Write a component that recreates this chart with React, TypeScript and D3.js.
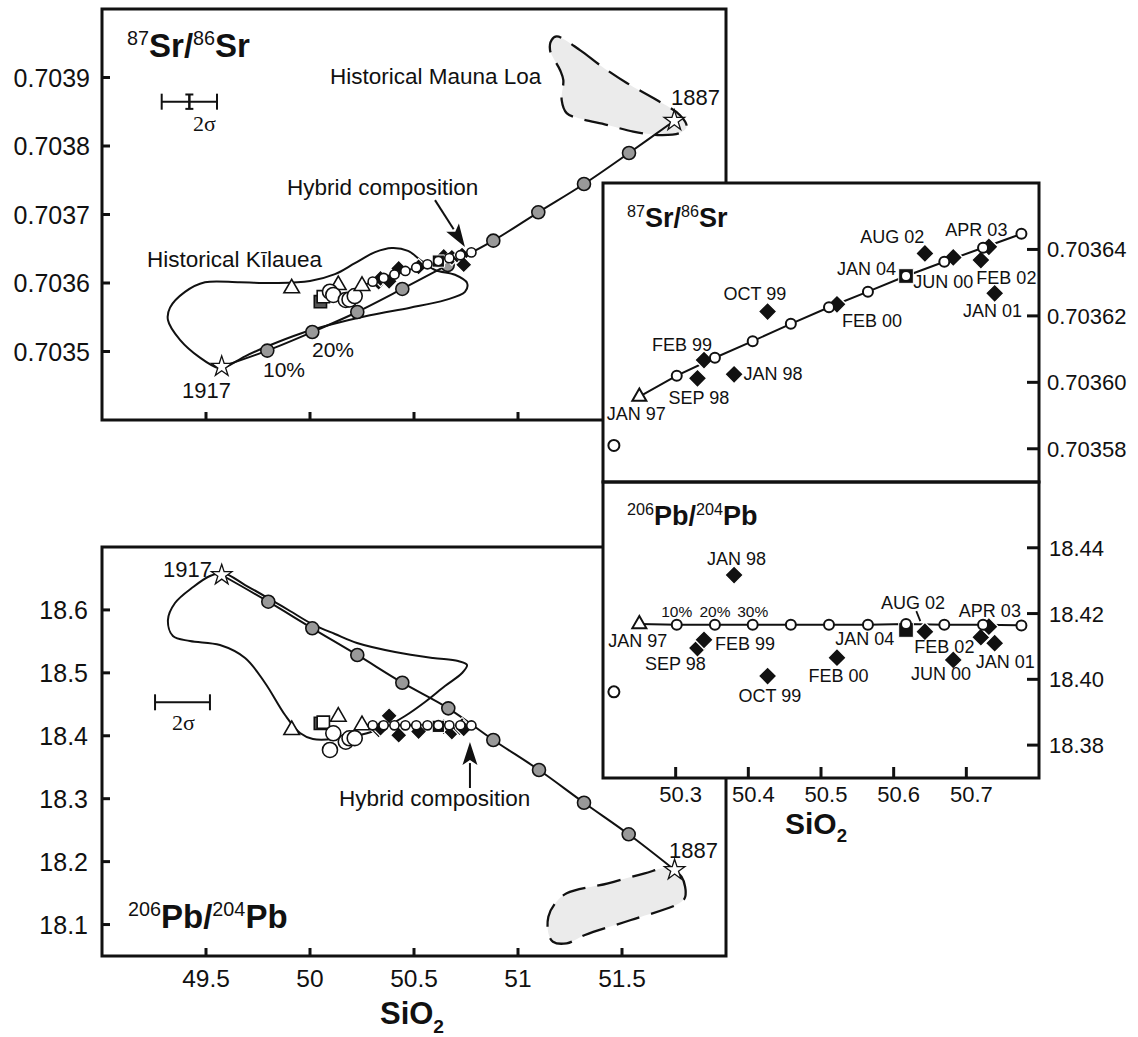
import React from "react";
import * as d3 from "d3";

const FONT = "'Liberation Sans', Arial, Helvetica, sans-serif";
const SERIF = "'Liberation Serif', 'Times New Roman', serif";

// ---------- axis ticks ----------
const siTicks = [49.5, 50, 50.5, 51, 51.5];
const srTicks = [0.7035, 0.7036, 0.7037, 0.7038, 0.7039];
const pbTicks = [18.1, 18.2, 18.3, 18.4, 18.5, 18.6];
const insetSiTicks = [50.3, 50.4, 50.5, 50.6, 50.7];
const insetSrTicks = [0.70358, 0.7036, 0.70362, 0.70364];
const insetPbTicks = [18.38, 18.4, 18.42, 18.44];

// ---------- 1917 Kilauea -> 1887 Mauna Loa mixing (10% steps) ----------
const mixSiSr = [49.5755, 49.7947, 50.0111, 50.2274, 50.4438, 50.662, 50.8813, 51.0976, 51.3173, 51.5337, 51.7515];
const mixSr = [0.7034779, 0.7035013, 0.7035285, 0.7035577, 0.7035913, 0.7036263, 0.7036618, 0.7037032, 0.7037445, 0.7037898, 0.7038369];
const mixSiPb = [49.5755, 49.7995, 50.0111, 50.2274, 50.4438, 50.6649, 50.8813, 51.101, 51.3173, 51.5322, 51.7529];
const mixPb = [18.6555, 18.6131, 18.5708, 18.5284, 18.4843, 18.4436, 18.3933, 18.3456, 18.2936, 18.2434, 18.1867];

// ---------- JAN 97 -> hybrid composition mixing (10% steps) ----------
const hybSi = [50.25, 50.3015, 50.354, 50.406, 50.4585, 50.511, 50.5646, 50.617, 50.6697, 50.723, 50.7758];
const hybSr = [0.7035957, 0.703602, 0.7036074, 0.7036124, 0.7036176, 0.7036226, 0.7036273, 0.703632, 0.7036363, 0.7036405, 0.7036447];
const hybPb = [18.4168, 18.4166, 18.4166, 18.4166, 18.4166, 18.4166, 18.4166, 18.4168, 18.4166, 18.4166, 18.4164];

// ---------- Pu'u 'O'o samples (black diamonds) ----------
const diaNames = ["SEP 98", "FEB 99", "JAN 98", "OCT 99", "FEB 00", "AUG 02", "JUN 00", "FEB 02", "APR 03", "JAN 01"];
const diaSi = [50.33, 50.339, 50.3804, 50.4265, 50.522, 50.643, 50.682, 50.72, 50.731, 50.739];
const diaSr = [0.7036012, 0.7036067, 0.7036024, 0.7036213, 0.7036235, 0.7036388, 0.7036376, 0.7036368, 0.7036408, 0.7036268];
const diaPb = [18.4095, 18.412, 18.4317, 18.401, 18.4066, 18.4145, 18.4059, 18.4128, 18.416, 18.411];

// JAN 04 (black square), JAN 97 (triangle = hybSi[0])
const jan04 = { si: 50.617, sr: 0.703632, pb: 18.415 };

// ---------- earlier samples ----------
const triSi = [49.912, 50.136];
const triSr = [0.7035923, 0.703597];
const triPb = [18.4092, 18.4303];
const sqSi = [50.05, 50.064];
const sqSr = [0.7035727, 0.70358];
const sqPb = [18.4198, 18.4215];
const circSi = [50.096, 50.112, 50.172, 50.19, 50.215];
const circSr = [0.7035873, 0.7035825, 0.7035752, 0.703576, 0.703581];
const circPb = [18.3774, 18.4039, 18.3906, 18.396, 18.3962];

// ---------- fields ----------
const kilSr: [number, number][] = [
  [49.558, 0.703476], [49.471, 0.703491], [49.375, 0.703517], [49.317, 0.703546], [49.327, 0.703564],
  [49.399, 0.703587], [49.495, 0.703601], [49.663, 0.703601], [49.832, 0.7036], [50.0, 0.703603],
  [50.12, 0.703613], [50.216, 0.703629], [50.313, 0.703645], [50.394, 0.703651], [50.471, 0.703647],
  [50.529, 0.703634], [50.601, 0.703619], [50.697, 0.703612], [50.755, 0.7036], [50.745, 0.703587],
  [50.649, 0.703575], [50.481, 0.703564], [50.288, 0.703553], [50.096, 0.703539], [49.952, 0.703526],
  [49.798, 0.703508], [49.688, 0.703493], [49.591, 0.703477],
];
const mlSr: [number, number][] = [
  [51.186, 0.70396], [51.298, 0.70394], [51.394, 0.703918], [51.523, 0.703892], [51.667, 0.703867],
  [51.779, 0.703845], [51.811, 0.703828], [51.779, 0.703819], [51.683, 0.703816], [51.554, 0.703821],
  [51.426, 0.703831], [51.298, 0.70384], [51.234, 0.703848], [51.21, 0.703867], [51.218, 0.703896],
  [51.202, 0.703911], [51.154, 0.70394], [51.162, 0.703955],
];
const kilPb: [number, number][] = [
  [49.582, 18.6587], [49.688, 18.6396], [49.798, 18.6189], [49.904, 18.5983], [50.01, 18.5776],
  [50.12, 18.5617], [50.226, 18.5474], [50.409, 18.5331], [50.591, 18.5236], [50.712, 18.5188],
  [50.755, 18.5125], [50.731, 18.4997], [50.649, 18.4791], [50.553, 18.4537], [50.457, 18.4314],
  [50.361, 18.4139], [50.24, 18.4012], [50.12, 18.3949], [50.014, 18.3949], [49.952, 18.4044],
  [49.88, 18.433], [49.784, 18.4839], [49.688, 18.5236], [49.567, 18.5442], [49.423, 18.5506],
  [49.341, 18.5585], [49.317, 18.584], [49.351, 18.611], [49.438, 18.6364], [49.519, 18.6539],
];
const mlPb: [number, number][] = [
  [51.72, 18.1894], [51.786, 18.176], [51.804, 18.1442], [51.775, 18.1338], [51.543, 18.1072],
  [51.322, 18.0834], [51.234, 18.0702], [51.168, 18.0727], [51.146, 18.0861], [51.146, 18.1125],
  [51.179, 18.1338], [51.234, 18.1496], [51.433, 18.1655], [51.609, 18.1814],
];

// 2 sigma error bars
const errSr = { si: 49.42, v: 0.7038647, dSi: 0.133, dV: 0.0000105 };
const errPb = { si: 49.387, v: 18.4532, dSi: 0.132 };

// arrows to hybrid composition
const arrowSr = { from: [50.601, 0.703721], to: [50.745, 0.7036526] };
const arrowPb = { from: [50.769, 18.317], to: [50.769, 18.39] };

// ---------- label layout (offsets in px from the marker) ----------
const srLabelOff = [[-29, 25.7], [-52, -9.3], [9.3, 5.7], [-44, -11.5], [5, 22.5], [-64.6, -10], [-40, 31], [-4.5, 24], [-43.5, -10.8], [-31.6, 24]];
const pbLabelOff = [[-52.4, 22], [11, 10], [-27, -10], [-29, 25.7], [-28.5, 24], [-44, -22.3], [-42.2, 20], [-66.5, 16], [-30, -9.4], [-19, 25]];
const srJan97Off = [-32.6, 23.4], pbJan97Off = [-31, 22.6];
const srJan04Off = [-69, -1], pbJan04Off = [-70.7, 15];
const pctLabels = ["10%", "20%", "30%"];

const STAR = d3.symbol(d3.symbolStar, 130)();
const DIA_MAIN = d3.symbol(d3.symbolSquare, 135)();
const DIA_INSET = d3.symbol(d3.symbolSquare, 175)();
const TRI_MAIN = d3.symbol(d3.symbolTriangle, 105)();
const TRI_INSET = d3.symbol(d3.symbolTriangle, 85)();
const SQ_MAIN = d3.symbol(d3.symbolSquare, 150)();
const SQ_INSET = d3.symbol(d3.symbolSquare, 215)();

function Arrow({ x1, y1, x2, y2, L = 23, W = 15 }: any) {
  const dx = x2 - x1, dy = y2 - y1;
  const len = Math.hypot(dx, dy);
  const ux = dx / len, uy = dy / len;
  const bx = x2 - ux * L, by = y2 - uy * L;
  const nx = -uy, ny = ux;
  return (
    <g>
      <line x1={x1} y1={y1} x2={bx + ux * 2} y2={by + uy * 2} stroke="#111" strokeWidth={2} />
      <path d={`M${x2},${y2}L${bx + nx * W / 2},${by + ny * W / 2}L${bx + ux * 5},${by + uy * 5}L${bx - nx * W / 2},${by - ny * W / 2}Z`} fill="#111" />
    </g>
  );
}

function IsoTitle({ x, y, a, b, el, size }: any) {
  const s = size * 0.6;
  const up = size * 0.36;
  return (
    <text x={x} y={y} fontFamily={FONT} fontWeight="bold" fontSize={size} fill="#111">
      <tspan fontSize={s} fontWeight="normal" dy={-up}>{a}</tspan>
      <tspan dy={up}>{el}/</tspan>
      <tspan fontSize={s} fontWeight="normal" dy={-up}>{b}</tspan>
      <tspan dy={up}>{el}</tspan>
    </text>
  );
}

function SiO2({ x, y, size }: any) {
  return (
    <text x={x} y={y} fontFamily={FONT} fontWeight="bold" fontSize={size} textAnchor="middle" fill="#111">
      SiO<tspan fontSize={size * 0.62} dy={size * 0.28}>2</tspan>
    </text>
  );
}

export default function App() {
  const x = d3.scaleLinear().domain([49, 52]).range([102, 726]);
  const ySr = d3.scaleLinear().domain([0.7034, 0.704]).range([420, 9]);
  const yPb = d3.scaleLinear().domain([18.05, 18.7]).range([956, 547]);
  const xi = d3.scaleLinear().domain([50.2, 50.8]).range([603, 1039]);
  const yiSr = d3.scaleLinear().domain([0.70357, 0.70366]).range([482, 183]);
  const yiPb = d3.scaleLinear().domain([18.37, 18.46]).range([778, 482]);

  const lin = d3.line();
  const smooth = d3.line().curve(d3.curveCatmullRom.alpha(0.5));
  const closed = d3.line().curve(d3.curveCatmullRomClosed.alpha(0.5));

  const mainPanel = (
    sy: any, kil: [number, number][], ml: [number, number][],
    mSi: number[], mV: number[], hV: number[], dV: number[], j04: number,
    tV: number[], sV: number[], cV: number[], clip: string
  ) => {
    const mix = mSi.map((s, i) => [x(s), sy(mV[i])] as [number, number]);
    const hyb = hybSi.map((s, i) => [x(s), sy(hV[i])] as [number, number]);
    return (
      <g clipPath={`url(#${clip})`}>
        <path d={closed(ml.map((p) => [x(p[0]), sy(p[1])]))!} fill="#ebebeb" stroke="#111" strokeWidth={2.3} strokeDasharray="24 12" />
        <path d={closed(kil.map((p) => [x(p[0]), sy(p[1])]))!} fill="none" stroke="#111" strokeWidth={2} />
        <path d={smooth(mix)!} fill="none" stroke="#111" strokeWidth={2} />
        {mix.slice(1, -1).map((p, i) => (
          <circle key={"g" + i} cx={p[0]} cy={p[1]} r={6.5} fill="#999" stroke="#111" strokeWidth={1.6} />
        ))}
        {[mix[0], mix[mix.length - 1]].map((p, i) => (
          <path key={"st" + i} d={STAR!} transform={`translate(${p[0]},${p[1]})`} fill="#fff" stroke="#111" strokeWidth={1.3} />
        ))}
        <path d={lin(hyb)!} fill="none" stroke="#111" strokeWidth={2} />
        {triSi.map((s, i) => (
          <path key={"t" + i} d={TRI_MAIN!} transform={`translate(${x(s)},${sy(tV[i])})`} fill="#fff" stroke="#111" strokeWidth={1.6} />
        ))}
        {sqSi.map((s, i) => (
          <path key={"s" + i} d={SQ_MAIN!} transform={`translate(${x(s)},${sy(sV[i])})`} fill={i === 0 ? "#555" : "#fff"} stroke="#111" strokeWidth={1.6} />
        ))}
        {circSi.map((s, i) => (
          <circle key={"c" + i} cx={x(s)} cy={sy(cV[i])} r={7.5} fill="#fff" stroke="#111" strokeWidth={1.6} />
        ))}
        <path d={TRI_MAIN!} transform={`translate(${hyb[0][0]},${hyb[0][1]})`} fill="#fff" stroke="#111" strokeWidth={1.6} />
        {diaSi.map((s, i) => (
          <path key={"d" + i} d={DIA_MAIN!} transform={`translate(${x(s)},${sy(dV[i])}) rotate(45)`} fill="#111" stroke="#fff" strokeWidth={1.2} />
        ))}
        <path d={SQ_MAIN!} transform={`translate(${x(jan04.si)},${sy(j04)})`} fill="#111" stroke="#fff" strokeWidth={1} />
        {hyb.slice(1).map((p, i) => (
          <circle key={"h" + i} cx={p[0]} cy={p[1]} r={4.6} fill="#fff" stroke="#111" strokeWidth={1.6} />
        ))}
      </g>
    );
  };

  const inset = (sy: any, hV: number[], dV: number[], j04: number, lone: number, offs: number[][], j97Off: number[], j04Off: number[], clip: string, isPb: boolean) => {
    const hyb = hybSi.map((s, i) => [xi(s), sy(hV[i])] as [number, number]);
    return (
      <g clipPath={`url(#${clip})`}>
        <path d={lin(hyb)!} fill="none" stroke="#111" strokeWidth={2} />
        <path d={TRI_INSET!} transform={`translate(${hyb[0][0]},${hyb[0][1]})`} fill="#fff" stroke="#111" strokeWidth={2} />
        {diaSi.map((s, i) => (
          <path key={"d" + i} d={DIA_INSET!} transform={`translate(${xi(s)},${sy(dV[i])}) rotate(45)`} fill="#111" stroke="#fff" strokeWidth={1.4} />
        ))}
        <path d={SQ_INSET!} transform={`translate(${xi(jan04.si)},${sy(j04)})`} fill="#111" stroke="#fff" strokeWidth={1} />
        {hyb.slice(1).map((p, i) => (
          <circle key={"h" + i} cx={p[0]} cy={p[1]} r={5} fill="#fff" stroke="#111" strokeWidth={2} />
        ))}
        <circle cx={xi(circSi[4])} cy={sy(lone)} r={5.5} fill="#fff" stroke="#111" strokeWidth={2} />
        {diaNames.map((n, i) => (
          <text key={"l" + i} x={xi(diaSi[i]) + offs[i][0]} y={sy(dV[i]) + offs[i][1]} fontSize={18} fill="#111">{n}</text>
        ))}
        <text x={hyb[0][0] + j97Off[0]} y={hyb[0][1] + j97Off[1]} fontSize={18} fill="#111">JAN 97</text>
        <text x={xi(jan04.si) + j04Off[0]} y={sy(j04) + j04Off[1]} fontSize={18} fill="#111">JAN 04</text>
        {isPb && pctLabels.map((t, i) => (
          <text key={"p" + i} x={hyb[i + 1][0]} y={hyb[i + 1][1] - 8} fontSize={15.5} textAnchor="middle" fill="#111">{t}</text>
        ))}
        {isPb && (
          <line x1={xi(diaSi[5]) - 8.6} y1={sy(dV[5]) - 20.6} x2={xi(diaSi[5]) - 4.6} y2={sy(dV[5]) - 10.6} stroke="#111" strokeWidth={1.8} />
        )}
      </g>
    );
  };

  const aSr = { x1: x(arrowSr.from[0]), y1: ySr(arrowSr.from[1]), x2: x(arrowSr.to[0]), y2: ySr(arrowSr.to[1]) };
  const aPb = { x1: x(arrowPb.from[0]), y1: yPb(arrowPb.from[1]), x2: x(arrowPb.to[0]), y2: yPb(arrowPb.to[1]) };

  return (
    <svg width={1138} height={1037} style={{ position: "absolute", left: 0, top: 0, background: "#fff" }} fontFamily={FONT}>
      <defs>
        <clipPath id="cTop"><rect x={102} y={9} width={624} height={411} /></clipPath>
        <clipPath id="cBot"><rect x={102} y={547} width={624} height={409} /></clipPath>
        <clipPath id="ciTop"><rect x={603} y={183} width={436} height={299} /></clipPath>
        <clipPath id="ciBot"><rect x={603} y={482} width={436} height={296} /></clipPath>
      </defs>
      <rect x={0} y={0} width={1138} height={1037} fill="#fff" />

      {/* ===== top main panel: 87Sr/86Sr ===== */}
      {mainPanel(ySr, kilSr, mlSr, mixSiSr, mixSr, hybSr, diaSr, jan04.sr, triSr, sqSr, circSr, "cTop")}
      <rect x={102} y={9} width={624} height={411} fill="none" stroke="#111" strokeWidth={3} />
      {srTicks.map((t) => (
        <g key={t}>
          <line x1={102} x2={110} y1={ySr(t)} y2={ySr(t)} stroke="#111" strokeWidth={3} />
          <text x={90} y={ySr(t) + 9} fontSize={25} textAnchor="end" fill="#111">{d3.format(".4f")(t)}</text>
        </g>
      ))}
      {siTicks.map((t) => (
        <line key={t} x1={x(t)} x2={x(t)} y1={420} y2={412} stroke="#111" strokeWidth={3} />
      ))}
      <IsoTitle x={127} y={57} a="87" b="86" el="Sr" size={33} />
      <g stroke="#111" strokeWidth={2}>
        <line x1={x(errSr.si - errSr.dSi)} x2={x(errSr.si + errSr.dSi)} y1={ySr(errSr.v)} y2={ySr(errSr.v)} />
        <line x1={x(errSr.si - errSr.dSi)} x2={x(errSr.si - errSr.dSi)} y1={ySr(errSr.v) - 8} y2={ySr(errSr.v) + 8} />
        <line x1={x(errSr.si + errSr.dSi)} x2={x(errSr.si + errSr.dSi)} y1={ySr(errSr.v) - 8} y2={ySr(errSr.v) + 8} />
        <line x1={x(errSr.si)} x2={x(errSr.si)} y1={ySr(errSr.v + errSr.dV)} y2={ySr(errSr.v - errSr.dV)} strokeWidth={2.5} />
        <line x1={x(errSr.si) - 4} x2={x(errSr.si) + 4} y1={ySr(errSr.v + errSr.dV)} y2={ySr(errSr.v + errSr.dV)} />
        <line x1={x(errSr.si) - 4} x2={x(errSr.si) + 4} y1={ySr(errSr.v - errSr.dV)} y2={ySr(errSr.v - errSr.dV)} />
      </g>
      <text x={193} y={131} fontFamily={SERIF} fontSize={22} fill="#111">2σ</text>
      <text x={330} y={84} fontSize={22.5} fill="#111">Historical Mauna Loa</text>
      <text x={671} y={105} fontSize={22} fill="#111">1887</text>
      <text x={287} y={195} fontSize={22.5} fill="#111">Hybrid composition</text>
      <text x={147} y={267} fontSize={22.5} fill="#111">Historical Kīlauea</text>
      <text x={182} y={398} fontSize={22} fill="#111">1917</text>
      <text x={263} y={377} fontSize={21} fill="#111">10%</text>
      <text x={312} y={357} fontSize={21} fill="#111">20%</text>
      <Arrow {...aSr} />

      {/* ===== bottom main panel: 206Pb/204Pb ===== */}
      {mainPanel(yPb, kilPb, mlPb, mixSiPb, mixPb, hybPb, diaPb, jan04.pb, triPb, sqPb, circPb, "cBot")}
      <rect x={102} y={547} width={624} height={409} fill="none" stroke="#111" strokeWidth={3} />
      {pbTicks.map((t) => (
        <g key={t}>
          <line x1={102} x2={110} y1={yPb(t)} y2={yPb(t)} stroke="#111" strokeWidth={3} />
          <text x={88} y={yPb(t) + 9} fontSize={25} textAnchor="end" fill="#111">{d3.format(".1f")(t)}</text>
        </g>
      ))}
      {siTicks.map((t) => (
        <g key={t}>
          <line x1={x(t)} x2={x(t)} y1={956} y2={948} stroke="#111" strokeWidth={3} />
          <text x={x(t)} y={987} fontSize={24.5} textAnchor="middle" fill="#111">{d3.format("")(t)}</text>
        </g>
      ))}
      <SiO2 x={412} y={1024} size={31} />
      <IsoTitle x={128} y={928} a="206" b="204" el="Pb" size={33} />
      <g stroke="#111" strokeWidth={2}>
        <line x1={x(errPb.si - errPb.dSi)} x2={x(errPb.si + errPb.dSi)} y1={yPb(errPb.v)} y2={yPb(errPb.v)} />
        <line x1={x(errPb.si - errPb.dSi)} x2={x(errPb.si - errPb.dSi)} y1={yPb(errPb.v) - 8} y2={yPb(errPb.v) + 8} />
        <line x1={x(errPb.si + errPb.dSi)} x2={x(errPb.si + errPb.dSi)} y1={yPb(errPb.v) - 8} y2={yPb(errPb.v) + 8} />
      </g>
      <text x={172} y={730} fontFamily={SERIF} fontSize={22} fill="#111">2σ</text>
      <text x={163} y={577} fontSize={22} fill="#111">1917</text>
      <text x={339} y={806} fontSize={22.5} fill="#111">Hybrid composition</text>
      <text x={669} y={858} fontSize={22} fill="#111">1887</text>
      <Arrow {...aPb} />

      {/* ===== insets ===== */}
      <rect x={603} y={183} width={436} height={299} fill="#fff" />
      <rect x={603} y={482} width={436} height={296} fill="#fff" />
      {inset(yiSr, hybSr, diaSr, jan04.sr, circSr[4], srLabelOff, srJan97Off, srJan04Off, "ciTop", false)}
      {inset(yiPb, hybPb, diaPb, jan04.pb, circPb[4], pbLabelOff, pbJan97Off, pbJan04Off, "ciBot", true)}
      <rect x={603} y={183} width={436} height={299} fill="none" stroke="#111" strokeWidth={3} />
      <rect x={603} y={482} width={436} height={296} fill="none" stroke="#111" strokeWidth={3} />
      {insetSrTicks.map((t) => (
        <g key={t}>
          <line x1={1027} x2={1039} y1={yiSr(t)} y2={yiSr(t)} stroke="#111" strokeWidth={3} />
          <text x={1047} y={yiSr(t) + 8} fontSize={22} fill="#111">{d3.format(".5f")(t)}</text>
        </g>
      ))}
      {insetPbTicks.map((t) => (
        <g key={t}>
          <line x1={1027} x2={1039} y1={yiPb(t)} y2={yiPb(t)} stroke="#111" strokeWidth={3} />
          <text x={1049} y={yiPb(t) + 8} fontSize={22} fill="#111">{d3.format(".2f")(t)}</text>
        </g>
      ))}
      {insetSiTicks.map((t) => (
        <g key={t}>
          <line x1={xi(t)} x2={xi(t)} y1={778} y2={767} stroke="#111" strokeWidth={3} />
          <text x={xi(t) + 5} y={802} fontSize={22} textAnchor="middle" fill="#111">{d3.format(".1f")(t)}</text>
        </g>
      ))}
      <SiO2 x={816} y={834} size={30} />
      <IsoTitle x={627} y={227} a="87" b="86" el="Sr" size={27} />
      <IsoTitle x={627} y={525} a="206" b="204" el="Pb" size={27} />
    </svg>
  );
}
